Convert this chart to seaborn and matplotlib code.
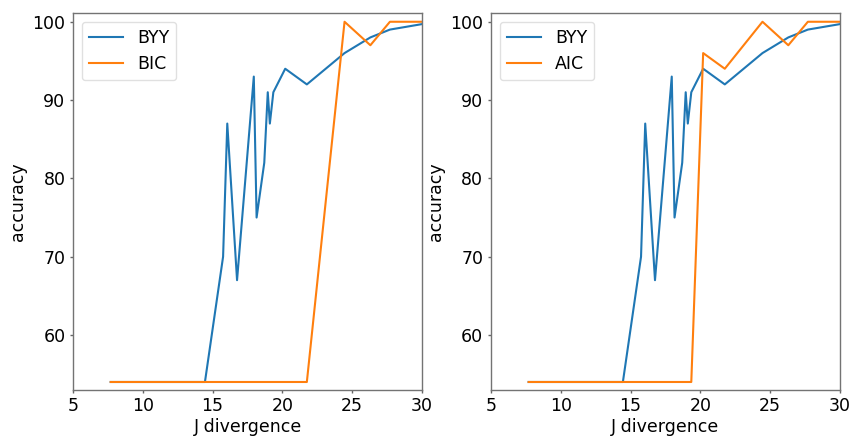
import matplotlib
matplotlib.use("Agg")
import matplotlib.pyplot as plt
import seaborn as sns
import pandas as pd

# Data
j_divergence = [7.7, 14.45, 15.75, 16.05, 16.75, 17.95, 18.15, 18.7, 18.95, 19.1,
                19.35, 20.2, 21.75, 24.45, 26.3, 27.7, 30.0]
byy = [54, 54, 70, 87, 67, 93, 75, 82, 91, 87, 91, 94, 92, 96, 98, 99, 99.7]
bic = [54, 54, 54, 54, 54, 54, 54, 54, 54, 54, 54, 54, 54, 100, 97, 100, 100]
aic = [54, 54, 54, 54, 54, 54, 54, 54, 54, 54, 54, 96, 94, 100, 97, 100, 100]

x_ticks = [5, 10, 15, 20, 25, 30]
y_ticks = [60, 70, 80, 90, 100]

plt.rcParams["font.family"] = ["DejaVu Sans"]
plt.rcParams["font.size"] = 12.5

fig = plt.figure(figsize=(8.5, 4.38), dpi=100)
ax1 = fig.add_axes([0.0859, 0.110, 0.4106, 0.860])
ax2 = fig.add_axes([0.5776, 0.110, 0.4106, 0.860])

blue = "#1f77b4"
orange = "#ff7f0e"

for ax, other, name in [(ax1, bic, "BIC"), (ax2, aic, "AIC")]:
    df = pd.DataFrame({"x": j_divergence * 2,
                       "y": byy + other,
                       "method": ["BYY"] * len(byy) + [name] * len(other)})
    sns.lineplot(data=df, x="x", y="y", hue="method", ax=ax,
                 palette=[blue, orange], linewidth=1.5, sort=False,
                 estimator=None)
    ax.set_xlim(5, 30)
    ax.set_ylim(53, 101.1)
    ax.set_xticks(x_ticks)
    ax.set_yticks(y_ticks)
    ax.set_xlabel("J divergence", fontsize=12.5, labelpad=1.5)
    ax.set_ylabel("accuracy", fontsize=12.5)
    ax.tick_params(labelsize=12.5, color="0.4", length=2.5, width=1, pad=3)
    for s in ax.spines.values():
        s.set_color("0.45")
        s.set_linewidth(1)
    leg = ax.legend(loc="upper left", fontsize=12.5, title=None,
                    frameon=True, fancybox=True)
    leg.get_frame().set_edgecolor("0.85")

fig.savefig("out.png", dpi=100)
